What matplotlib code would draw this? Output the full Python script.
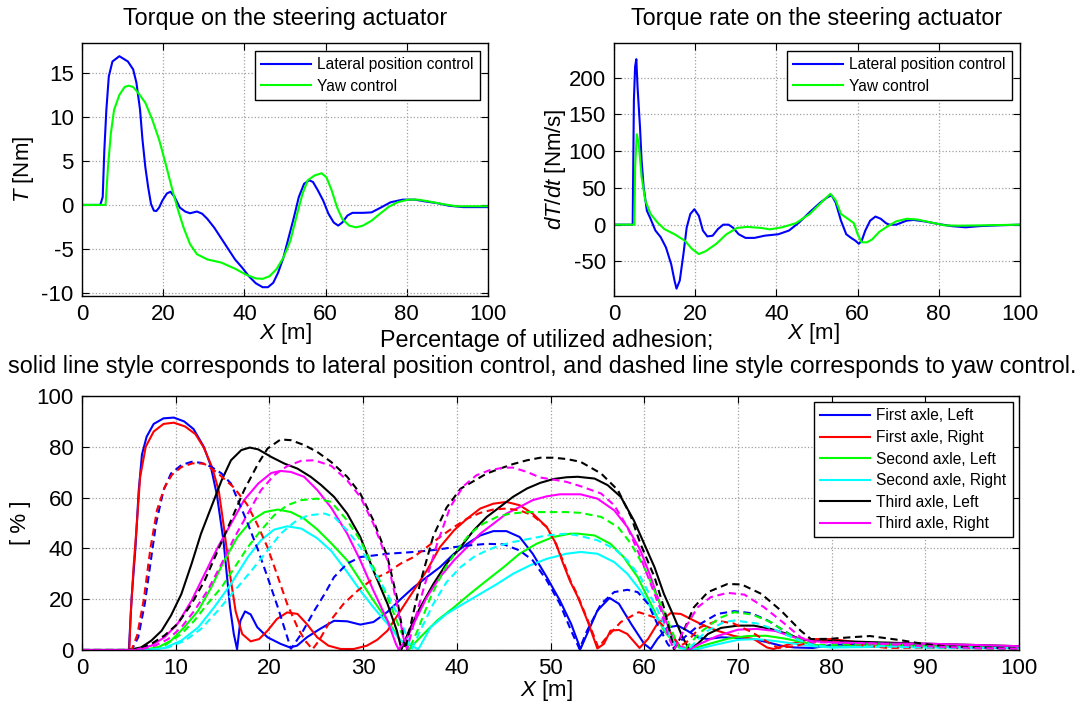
import matplotlib
matplotlib.use("Agg")
import matplotlib.pyplot as plt

plt.rcParams['font.family'] = ['Liberation Sans', 'DejaVu Sans']
plt.rcParams['mathtext.fontset'] = 'custom'
plt.rcParams['mathtext.rm'] = 'Liberation Sans'
plt.rcParams['mathtext.it'] = 'Liberation Sans:italic'
plt.rcParams['axes.unicode_minus'] = False

# ---------------- Data: torque ----------------
torque_lat_x = [0, 4.5, 5.1, 5.5, 6.0, 6.6, 7.5, 9.2, 11.3, 12.6, 13.4, 14.3, 14.9, 15.6, 16.3, 17.0, 17.7, 18.3,
                19.0, 19.8, 20.9, 21.8, 22.8, 24.1, 25.4, 26.6, 28.3, 29.6, 30.9, 32.6, 34.3, 36.0, 37.7, 39.4,
                41.1, 42.8, 44.5, 45.8, 47.1, 48.3, 49.6, 50.9, 52.2, 53.4, 54.7, 56.0, 56.9, 58.1, 59.4, 60.7,
                62.0, 63.1, 64.1, 65.4, 66.6, 69.2, 71.3, 73.4, 76.0, 79.0, 82.0, 84.5, 87.5, 90.5, 93.9, 100]
torque_lat_y = [0, 0, 0.9, 6.2, 10.8, 14.6, 16.3, 16.9, 16.3, 15.4, 13.9, 10.8, 7.4, 4.3, 2.0, 0.1, -0.65, -0.7,
                -0.3, 0.5, 1.3, 1.5, 0.9, -0.3, -0.75, -0.95, -0.75, -1.0, -1.6, -2.6, -3.8, -5.0, -6.2, -7.1,
                -8.1, -8.9, -9.35, -9.35, -8.85, -7.7, -6.0, -3.7, -1.4, 0.9, 2.4, 2.8, 2.6, 1.65, 0.5, -1.0,
                -2.0, -2.35, -2.0, -1.2, -0.9, -0.9, -0.85, -0.35, 0.3, 0.6, 0.6, 0.4, 0.2, -0.1, -0.25, -0.25]
torque_yaw_x = [0, 5.8, 6.4, 7.1, 7.9, 9.2, 10.5, 11.5, 12.6, 13.9, 15.6, 17.3, 19.0, 20.7, 22.4, 23.7, 25.0,
                26.6, 28.3, 30.9, 34.3, 37.7, 40.3, 42.8, 44.5, 46.2, 47.9, 49.6, 51.3, 53.0, 54.3, 55.6, 57.3,
                59.0, 60.2, 61.5, 62.8, 64.1, 65.8, 67.5, 69.2, 71.3, 73.4, 75.6, 77.7, 80.3, 82.8, 85.4, 88.8,
                92.2, 100]
torque_yaw_y = [0, 0, 4.3, 8.1, 10.8, 12.5, 13.4, 13.55, 13.4, 12.7, 11.6, 9.7, 7.4, 4.5, 1.45, -0.65, -2.55,
                -4.45, -5.6, -6.2, -6.55, -7.25, -7.9, -8.35, -8.4, -8.1, -7.3, -6.0, -4.1, -1.0, 1.25, 2.8, 3.35,
                3.6, 3.15, 1.65, -0.25, -1.6, -2.35, -2.55, -2.35, -1.8, -1.0, -0.2, 0.3, 0.6, 0.6, 0.4, 0.1,
                -0.15, -0.15]

# ---------------- Data: torque rate ----------------
rate_lat_x = [0, 4.6, 4.9, 5.2, 5.5, 5.8, 6.4, 6.8, 7.3, 8.1, 9.0, 10.2, 11.5, 12.8, 14.1, 14.9, 15.4, 16.2,
              17.1, 17.9, 18.8, 19.8, 20.9, 21.9, 23.0, 24.3, 25.6, 26.9, 28.2, 29.3, 30.7, 32.4, 34.6, 37.1,
              40.5, 43.1, 45.6, 48.2, 50.8, 52.5, 53.6, 54.6, 55.9, 57.2, 58.4, 59.5, 60.3, 61.0, 61.9, 63.1,
              64.4, 65.7, 67.0, 67.8, 69.5, 72.1, 73.8, 76.4, 79.8, 83.2, 86.6, 90.0, 94.3, 100]
rate_lat_y = [0, 0, 169, 215, 225, 187, 133, 87, 51, 19, 8, -8, -17, -31, -54, -76, -87, -76,
              -40, -4, 14.5, 21, 12, -8, -16, -15, -6, 0, 0, -4, -13, -18, -18, -15,
              -13, -8, 3, 17, 30, 37, 40, 30, 5.5, -13, -18, -22, -26, -22, -8, 5.5,
              11, 8, 2, 0, 0, 5.5, 6.4, 4.5, 1, -2, -3.6, -2, -1, 0]
rate_yaw_x = [0, 5.0, 5.2, 5.6, 6.1, 6.8, 7.7, 9.0, 10.7, 12.4, 14.9, 17.5, 19.2, 20.9, 22.6, 25.2, 27.7,
              30.3, 32.8, 36.3, 38.4, 41.4, 44.8, 48.2, 51.6, 53.3, 54.6, 55.9, 57.6, 59.1, 60.0, 61.0, 62.3,
              63.6, 65.3, 67.0, 69.5, 72.1, 74.7, 78.1, 81.5, 84.9, 90.0, 100]
rate_yaw_y = [0, 0, 78, 123, 110, 65, 33, 14.5, 3, -6, -13, -22, -33, -40, -36, -26, -13,
              -4.5, -3, -4.5, -6.4, -3.6, 2, 14.5, 33, 42, 33, 14.5, 8, 2, -13, -24, -24,
              -20, -10, -3.6, 4.5, 8, 7, 3, -1, -1.4, -1, 0]

# ---------------- Data: utilized adhesion [%] ----------------
fl_lat_x = [0, 5, 5.3, 5.7, 6.05, 6.4, 6.9, 7.65, 8.7, 9.8, 10.9, 11.9, 13, 13.7, 14.4, 15.1, 15.8, 16.2, 16.55,
            16.9, 17.4, 18, 18.7, 19.8, 21.2, 22.2, 22.95, 24, 25.4, 26.9, 28.3, 29.7, 31.1, 32.6, 34, 35.4,
            36.8, 38.2, 39.7, 41.1, 42.5, 43.9, 45.3, 46.7, 48.1, 49.6, 51, 52.2, 53.2, 53.9, 55, 56.3, 57.3,
            58.6, 60, 60.7, 61.4, 62.5, 63.6, 64.6, 65.7, 66.8, 68.2, 70, 71.7, 73.2, 74.6, 76, 78, 80, 85,
            90, 95, 100]
fl_lat_y = [0, 0, 20.7, 40, 62.6, 77, 84, 89, 91.2, 91.5, 90, 87, 80, 73, 61, 43, 16.8, 6.3, 0.3,
            11.5, 15.2, 14, 9, 5, 2.4, 1, 1.7, 5, 8.3, 11.5, 11.3, 10, 11, 15, 20, 24.7,
            28.7, 32.6, 37.9, 41.8, 45.1, 46.8, 46.8, 44.5, 37.9, 28.7, 19.5, 10.3, 0.4, 6.3, 15.5, 20.5, 18.2,
            10.3, 2.4, 0.4, 4.3, 8.9, 9.6, 7.6, 5, 4.3, 5, 4.7, 4.3, 3, 1.7, 1, 0.8, 2, 2.5,
            1.5, 1.2, 1]
fl_yaw_x = [0, 5.3, 6, 6.7, 7.4, 7.9, 8.7, 9.5, 10.6, 11.7, 12.7, 13.8, 14.9, 15.9, 16.8, 17.7, 18.8, 19.8,
            20.9, 21.8, 22.3, 23.4, 24.8, 25.9, 26.9, 28.3, 29.7, 31.1, 32.6, 34.3, 36.1, 37.9, 39.7, 41.4,
            43.2, 45, 46.7, 48.1, 49.6, 51, 52.2, 53.1, 53.9, 55.4, 56.8, 58.2, 59.3, 60.4, 61.4, 62.5, 63,
            64.3, 66, 67.8, 69.6, 71.4, 73.2, 74.9, 76.7, 78.5, 80, 85, 90, 95, 100]
fl_yaw_y = [0, 0, 5, 18.2, 36.6, 49.7, 62.9, 69.5, 72.8, 74.1, 73.7, 72.1, 69.5, 65.5, 57.6, 49.7, 39.2, 28.7,
            16.8, 6.3, 0.5, 6.3, 15.5, 22.1, 28.7, 34, 36.6, 37.2, 37.9, 38.3, 38.8, 39.5, 40.5, 41.2,
            41.8, 41.6, 39.2, 35.3, 27.4, 18.2, 7.6, 0.4, 7.6, 18.2, 22.8, 23.7, 22.8, 18.2, 10.3, 2.4, 0.3,
            5, 10.3, 14.2, 15.3, 14.5, 11.6, 7.6, 3.7, 1.5, 2, 2.5, 1.5, 1, 0.8]
fr_lat_x = [0, 5.05, 5.2, 5.5, 5.9, 6.2, 6.8, 7.65, 8.7, 9.8, 11, 12.1, 13, 13.9, 14.6, 15.1, 15.8, 16.4, 17.1,
            18, 18.9, 19.8, 20.8, 21.9, 23, 24, 25.1, 26.3, 27.6, 29, 30.4, 31.5, 32.6, 34, 35.4, 36.8, 38.2,
            39.7, 41.1, 42.5, 43.9, 45.3, 46.7, 48.1, 49.6, 50.6, 51.3, 52.1, 52.9, 54, 55, 55.7, 56.4, 57.3,
            58.2, 59.5, 60.4, 61.4, 62.8, 63.9, 65.3, 66.4, 67.8, 69.6, 71.7, 73.1, 73.8, 75.6, 77.7, 80.2,
            81.3, 85, 90, 95, 100]
fr_lat_y = [0, 0, 14, 32.5, 52, 68, 80, 86, 89, 89.5, 88, 85, 79.7, 71.8, 62.6, 49.5, 29.6, 15.2, 6.3,
            3.4, 4.3, 7.6, 12.2, 14.8, 14.2, 10.2, 5, 1.7, 0.4, 0.4, 1.7, 4, 7.6, 15.5, 23.4, 31.3, 40.5,
            47.1, 51.7, 55.7, 57.6, 58.3, 57, 53.7, 48.4, 41.8, 34.5, 27, 21, 11, 0.6, 2.4, 7.6, 7.9,
            6.3, 0.8, 4.3, 10.3, 14.5, 14.2, 11.6, 9.6, 7.6, 5.5, 4.3, 1, 0.4, 2.4, 4.3, 4.3,
            3.7, 2, 1.5, 1, 0.8]
fr_yaw_x = [0, 5.3, 5.9, 6.6, 7.3, 8, 8.8, 9.6, 10.6, 11.8, 13, 14.4, 16.2, 17.6, 18.7, 19.8, 20.8, 21.9, 23,
            23.8, 24.6, 25.3, 26.5, 27.9, 29.4, 30.8, 32.6, 34, 35.4, 36.8, 38.2, 39.7, 41.1, 42.5, 43.9, 45.3,
            46.7, 48.1, 49.6, 50.6, 51.4, 52.1, 52.9, 54, 55.1, 56, 57.5, 59.4, 61, 62.5, 63.8, 64.5, 66, 67.8,
            69.5, 71.5, 73, 74.3, 76, 78, 80, 83, 86, 90, 95, 100]
fr_yaw_y = [0, 0, 6, 20, 40, 55, 64, 69, 72, 73.5, 73.4, 69.9, 64, 57.4, 49.5, 40.4, 29.9, 18.1, 8.9,
            3.7, 0.3, 3.7, 11.5, 18.1, 23.3, 27.3, 30.5, 34, 36.6, 40.5, 44.5, 48.4, 51.7, 54, 55.3, 55.7,
            55, 53, 48.4, 41.5, 34.5, 27.5, 21.5, 11.5, 1, 5, 11, 14.9, 13, 8, 1.5, 3, 9, 11.5,
            10.5, 7, 3.5, 0.8, 1.5, 3.2, 3.4, 2, 0.8, 1, 0.7, 0.5]
sl_lat_x = [0, 6.3, 8.1, 9.5, 10.9, 12.4, 13.8, 15.2, 16.6, 18.1, 19.5, 20.9, 22.3, 23.7, 25.1, 26.6, 28.3,
            29.7, 31.1, 32.6, 34, 34.9, 36.1, 37.9, 39.7, 41.4, 43.2, 45, 46.7, 48.5, 50.3, 52.1, 52.9, 54.7,
            56.4, 57.8, 59.3, 60.7, 62.1, 63.5, 64.8, 67, 69, 71, 73, 75, 77, 79, 80, 85, 90, 95, 100]
sl_lat_y = [0, 0, 1, 3.7, 8.9, 15.5, 24.7, 35.3, 44.5, 51, 54.3, 55.3, 54.3, 51.7, 47.5, 42, 35.3,
            27.4, 19.5, 11.6, 3.7, 0.3, 5, 11.6, 16.8, 22.1, 27.4, 32.6, 37.9, 41.8, 44.5, 45.8, 45.8, 45.1,
            41.8, 36.6, 28.7, 18.2, 7.6, 1.5, 0.2, 2.5, 4.5, 5.5, 5.6, 4.5, 3, 1.5, 1.2, 2, 1.5, 1.2, 1]
sl_yaw_x = [0, 6.7, 8.8, 10.6, 12, 13.4, 14.9, 16.3, 17.7, 19.1, 20.5, 21.9, 23.4, 25.1, 26.6, 28.3, 29.7,
            31.1, 32.6, 34, 34.9, 35.8, 37.2, 38.6, 40, 41.4, 42.8, 44.3, 45.7, 47.5, 49.2, 51.7, 53.2, 55.4,
            57.2, 58.6, 60, 61.4, 62.8, 63.7, 64.3, 66, 68, 69.6, 71.5, 73.5, 76, 78, 80, 85, 90, 95, 100]
sl_yaw_y = [0, 0, 1.7, 6.3, 11.6, 18.2, 24.7, 32.6, 40.5, 47.1, 53, 57, 59, 59.6, 58.3, 51, 43.2,
            32.6, 20.8, 7.6, 0.3, 7.6, 20.8, 31.3, 39.2, 45.8, 49.7, 52.4, 53.7, 54.3, 54.3, 54.3, 54, 52.4,
            48.4, 41.8, 32.6, 20.8, 8.9, 1, 0.2, 7, 12.5, 14.9, 14, 11, 5, 2, 2, 2.5, 1.5, 1, 0.8]
sr_lat_x = [0, 6.7, 8.8, 10.6, 12.4, 14.1, 15.9, 17.7, 19.1, 20.5, 21.9, 23.4, 25.1, 26.6, 28.3, 29.7, 31.1,
            32.6, 34, 35.9, 37.2, 38.9, 40.7, 42.5, 44.3, 46, 47.8, 49.6, 51.7, 53.2, 55, 56.8, 58.2, 59.6,
            61.1, 62.5, 63.6, 65.5, 67.5, 70, 72, 74, 76, 78, 80, 85, 90, 95, 100]
sr_lat_y = [0, 0, 0.8, 3.7, 8.9, 16.8, 26, 36.6, 43.2, 47.4, 48.7, 47.8, 44, 39, 30.7, 23.4, 16.8,
            10.3, 3.7, 0.3, 8.9, 14.2, 18.2, 22.1, 26, 30, 33.3, 35.9, 37.9, 38.6, 37.9, 34.6, 30, 23.4,
            14.2, 6.3, 1.5, 0.2, 2, 4, 4.3, 3.5, 2.5, 1.5, 1, 1.2, 1, 0.9, 0.8]
sr_yaw_x = [0, 7.1, 9.2, 11, 12.7, 14.5, 16.3, 18.1, 19.8, 21.2, 22.7, 24.1, 25.9, 26.9, 28.3, 29.7, 31.1,
            32.6, 34, 35.2, 36.1, 37.5, 38.9, 40.4, 41.8, 43.2, 44.6, 46, 47.8, 49.6, 51.7, 52.9, 55, 56.8,
            58.2, 59.6, 61.1, 62.5, 63.4, 64.7, 66.5, 68.5, 69.6, 72, 74, 76, 78, 80, 85, 90, 95, 100]
sr_yaw_y = [0, 0, 1, 3.7, 8.3, 15.5, 23.4, 31.3, 39.2, 45.8, 50.4, 53, 53.7, 52.4, 47.1, 40.5, 31.3,
            22.1, 11.6, 0.3, 7.6, 18.2, 26.7, 32.6, 36.6, 39.2, 41.2, 42.5, 43.8, 45.1, 45.8, 45.1, 43.2, 39.9,
            35.3, 28.7, 18.2, 7.6, 1, 0.2, 7, 11, 11.6, 10.5, 8, 4.5, 2, 1, 1.5, 1, 0.7, 0.5]
tl_lat_x = [0, 4.9, 6.3, 7.4, 8.5, 9.5, 10.6, 11.7, 12.7, 13.8, 14.9, 15.9, 17, 17.9, 18.8, 20.2, 21.6, 23,
            24.4, 25.5, 26.9, 28.3, 29.7, 31.1, 32.6, 33.6, 34.1, 34.9, 36.1, 37.5, 38.9, 40.4, 41.8, 43.2,
            44.6, 46, 47.5, 48.9, 50.3, 51.7, 52.9, 54.7, 56.1, 57.5, 58.9, 60, 61.1, 62.1, 63.2, 64.1, 64.8,
            65.7, 66.8, 68.2, 70, 71.7, 73.5, 75.3, 76.7, 78, 80, 85, 90, 95, 100]
tl_lat_y = [0, 0, 1, 3.7, 7.6, 13.6, 22, 34, 45.8, 56.3, 66.8, 74.7, 78.7, 79.7, 79, 76, 73.4, 71.4,
            68.2, 65, 60.3, 53.7, 44.5, 31.3, 18.2, 7.6, 0.3, 7.6, 16.8, 26, 34, 40.5, 47.1, 52.4,
            56.3, 60.3, 63.6, 65.8, 67.3, 68, 68.2, 67.5, 64.9, 60.3, 51, 41.8, 32.6, 22.1, 12.9, 5, 0.3,
            2.4, 6.3, 8.7, 9.6, 9.6, 8.3, 6.3, 4.3, 3.5, 3.6, 3, 2.5, 2, 1.5]
tl_yaw_x = [0, 5.6, 7.4, 8.8, 10.2, 11.7, 13.1, 14.5, 15.9, 17.3, 18.8, 19.8, 21.2, 22.3, 23.7, 25.1, 26.6,
            28.3, 29.7, 31.1, 32.6, 33.6, 34.2, 34.5, 35.1, 36.1, 37.5, 38.9, 40.4, 41.8, 43.2, 44.6, 46, 47.5,
            48.9, 50.3, 51.7, 53.2, 55.4, 57.2, 58.6, 59.6, 61.1, 62.1, 62.8, 63.2, 63.9, 65.3, 66.8, 68.9,
            70.4, 72.5, 74.6, 76.7, 77.8, 79.8, 82, 84.1, 87.3, 89.8, 92.6, 100]
tl_yaw_y = [0, 0, 2.4, 5.7, 10.3, 18.2, 27.4, 39.2, 51, 62.9, 73.4, 79.3, 82.9, 82.6, 80.7, 78, 74,
            68.2, 61.6, 51, 36.6, 20.8, 7.6, 0.3, 10.3, 26.5, 45, 56, 63.5, 66.5, 69.5, 71.4, 73.2, 74.7,
            75.7, 75.7, 75.2, 74.1, 69.5, 62.9, 52.4, 41.8, 28.7, 16.8, 6.3, 0.3, 5, 16.8, 22.8, 26,
            25.8, 22.1, 15.5, 7.6, 4.3, 4.4, 5, 5.5, 3.9, 2.4, 1.3, 0.6]
tr_lat_x = [0, 5.6, 7.4, 8.8, 10.2, 11.7, 13.1, 14.5, 15.9, 17.3, 18.8, 20.2, 21.2, 22.3, 23.7, 25.1, 26.6,
            28.3, 29.7, 31.1, 32.6, 33.5, 33.8, 34.6, 35.4, 36.8, 38.2, 39.7, 41.1, 42.5, 43.9, 45.3, 46.7,
            48.1, 49.6, 51, 53.2, 55, 56.8, 58.2, 59.6, 60.7, 61.8, 62.8, 63.8, 64.8, 66, 67.8, 70, 72, 74, 76,
            78, 80, 85, 90, 95, 100]
tr_lat_y = [0, 0, 1.7, 5, 10.3, 19.5, 30, 40.5, 49.7, 59, 65.5, 69.7, 70.5, 70.1, 68.2, 63, 56,
            45.8, 35.3, 23.4, 11.6, 2.4, 0.2, 4, 10.3, 20.8, 28.7, 35.3, 40.5, 45.8, 49.7, 53.7, 56.3,
            59, 60.5, 61.3, 61.3, 59.6, 55, 48.4, 39.2, 28.7, 16.8, 7, 1.5, 0.2, 2.5, 5.5, 8, 8.3, 7.5, 5,
            3.5, 3, 2.5, 2.5, 2, 1.5]
tr_yaw_x = [0, 6, 7.8, 9.2, 10.6, 12, 13.4, 14.9, 16.3, 17.7, 19.1, 20.5, 21.9, 23.4, 24.8, 26.6, 28.3, 29.7,
            31.1, 32.6, 33.6, 34.3, 34.7, 35.4, 36.5, 37.9, 39.3, 40.7, 42.1, 43.5, 45, 46, 47.5, 48.9, 50.3,
            51.7, 53.2, 55.4, 56.8, 58.2, 59.6, 60.7, 61.8, 62.6, 63.2, 64.2, 65.7, 67.1, 68.9, 70.7, 72.8, 75,
            76.7, 78, 80, 85, 90, 95, 100]
tr_yaw_y = [0, 0, 1.7, 4.3, 8.9, 15.5, 23.4, 34, 44.5, 53.7, 62.9, 68.8, 72.4, 74.5, 74.7, 72.5, 66.8, 60.3,
            49.7, 35.3, 18.2, 5, 0.2, 10.3, 24.7, 41.8, 56.3, 64.5, 68.8, 70.8, 71.8, 71.8, 70.1, 67.9, 67.1,
            66.2, 64.5, 61.6, 57, 48.4, 36.6, 26, 15.5, 5, 0.2, 7.6, 16.8, 20.8, 22.5, 21.8, 16.8, 10.3,
            5, 3, 3, 2.5, 1.5, 0.8, 0.5]

series_names = ['First axle, Left', 'First axle, Right', 'Second axle, Left',
                'Second axle, Right', 'Third axle, Left', 'Third axle, Right']
series_colors = ['#0000ff', '#ff0000', '#00ff00', '#00ffff', '#000000', '#ff00ff']
lat_series = [(fl_lat_x, fl_lat_y), (fr_lat_x, fr_lat_y), (sl_lat_x, sl_lat_y),
              (sr_lat_x, sr_lat_y), (tl_lat_x, tl_lat_y), (tr_lat_x, tr_lat_y)]
yaw_series = [(fl_yaw_x, fl_yaw_y), (fr_yaw_x, fr_yaw_y), (sl_yaw_x, sl_yaw_y),
              (sr_yaw_x, sr_yaw_y), (tl_yaw_x, tl_yaw_y), (tr_yaw_x, tr_yaw_y)]

# ---------------- Figure ----------------
W, H = 1081, 706
fig = plt.figure(figsize=(W / 100, H / 100), dpi=100)

def px_axes(l, t, r, b):
    return fig.add_axes([l / W, 1 - b / H, (r - l) / W, (b - t) / H])

TICK_FS = 16
TITLE_FS = 16.85
LEG_FS = 11.2
LW = 1.5

def style(ax):
    ax.tick_params(direction='in', top=True, right=True, length=5, width=0.8,
                   labelsize=TICK_FS, pad=6)
    ax.grid(True, color='#a0a0a0', linestyle=':', linewidth=0.9)
    for s in ax.spines.values():
        s.set_linewidth(1.0)
        s.set_color('black')

def legend(ax, **kw):
    leg = ax.legend(loc='upper right', fontsize=LEG_FS, fancybox=False, framealpha=1,
                    edgecolor='black', handlelength=3.2, borderpad=0.4, labelspacing=0.42,
                    handletextpad=0.4, **kw)
    leg.get_frame().set_linewidth(1.0)
    return leg

ax1 = px_axes(82, 43, 488, 296)
ax1.plot(torque_lat_x, torque_lat_y, color='#0000ff', lw=LW, label='Lateral position control')
ax1.plot(torque_yaw_x, torque_yaw_y, color='#00ff00', lw=LW, label='Yaw control')
ax1.set_xlim(0, 100)
ax1.set_ylim(-10.35, 18.4)
ax1.set_xticks([0, 20, 40, 60, 80, 100])
ax1.set_yticks([-10, -5, 0, 5, 10, 15])
style(ax1)
legend(ax1, borderaxespad=0.5)
ax1.text(0.5, -0.15, r'$X$ [m]', transform=ax1.transAxes, ha='center', va='center', fontsize=TICK_FS)
ax1.text(-0.145, 0.5, r'$T$ [Nm]', transform=ax1.transAxes, ha='center', va='center',
         rotation=90, fontsize=TICK_FS)
fig.text((82 + 488) / 2 / W, 1 - 19 / H, 'Torque on the steering actuator', ha='center', va='center',
         fontsize=TITLE_FS)

ax2 = px_axes(614, 43, 1020, 296)
ax2.plot(rate_lat_x, rate_lat_y, color='#0000ff', lw=LW, label='Lateral position control')
ax2.plot(rate_yaw_x, rate_yaw_y, color='#00ff00', lw=LW, label='Yaw control')
ax2.set_xlim(0, 100)
ax2.set_ylim(-97, 247)
ax2.set_xticks([0, 20, 40, 60, 80, 100])
ax2.set_yticks([-50, 0, 50, 100, 150, 200])
style(ax2)
legend(ax2, borderaxespad=0.5)
ax2.text(0.49, -0.15, r'$X$ [m]', transform=ax2.transAxes, ha='center', va='center', fontsize=TICK_FS)
ax2.text(-0.143, 0.5, r'$dT/dt$ [Nm/s]', transform=ax2.transAxes, ha='center', va='center',
         rotation=90, fontsize=TICK_FS)
fig.text((614 + 1020) / 2 / W, 1 - 19 / H, 'Torque rate on the steering actuator', ha='center',
         va='center', fontsize=TITLE_FS)

ax3 = px_axes(82, 396, 1019, 650)
for (xs, ys), c, name in zip(lat_series, series_colors, series_names):
    ax3.plot(xs, ys, color=c, lw=LW, label=name)
for (xs, ys), c in zip(yaw_series, series_colors):
    ax3.plot(xs, ys, color=c, lw=LW, linestyle=(0, (3.5, 2.2)))
ax3.set_xlim(0, 100)
ax3.set_ylim(0, 100)
ax3.set_xticks(list(range(0, 101, 10)))
ax3.set_yticks(list(range(0, 101, 20)))
style(ax3)
legend(ax3, borderaxespad=0.4)
ax3.text(0.496, -0.16, r'$X$ [m]', transform=ax3.transAxes, ha='center', va='center', fontsize=TICK_FS)
ax3.text(-0.066, 0.5, '[ % ]', transform=ax3.transAxes, ha='center', va='center',
         rotation=90, fontsize=TICK_FS)
fig.text(547 / W, 1 - 340 / H, 'Percentage of utilized adhesion;', ha='center', va='center',
         fontsize=TITLE_FS)
fig.text(542 / W, 1 - 367 / H,
         'solid line style corresponds to lateral position control, and dashed line style corresponds to yaw control.',
         ha='center', va='center', fontsize=TITLE_FS)

fig.savefig('out.png', dpi=100)
